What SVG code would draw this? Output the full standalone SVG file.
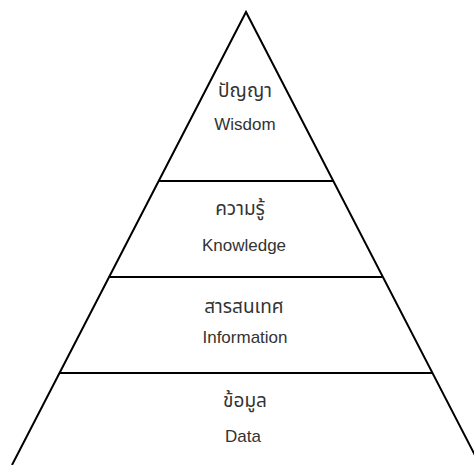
<svg xmlns="http://www.w3.org/2000/svg" width="474" height="465" viewBox="0 0 474 465">
<style>
.edge{stroke:#000;stroke-width:2;fill:none;stroke-linecap:butt}
.sep{stroke:#000;stroke-width:2}
.lbl{font-family:"Liberation Sans","Noto Sans Thai","Noto Sans","DejaVu Sans",sans-serif;font-size:17px;fill:#333;text-anchor:middle}
.th{font-size:19px}
</style>
<rect width="474" height="465" fill="#fff"/>
<g id="outline">
<path class="edge" d="M12,465 L246,12 L480,465"/>
</g>
<g id="wisdom">
<text class="lbl th" x="245" y="97">ปัญญา</text>
<text class="lbl" x="245" y="130">Wisdom</text>
</g>
<g id="knowledge">
<line class="sep" x1="159" y1="181" x2="333" y2="181"/>
<text class="lbl th" x="240" y="215">ความรู้</text>
<text class="lbl" x="244" y="251">Knowledge</text>
</g>
<g id="information">
<line class="sep" x1="110" y1="277" x2="382" y2="277"/>
<text class="lbl th" x="244" y="313">สารสนเทศ</text>
<text class="lbl" x="245" y="343">Information</text>
</g>
<g id="data">
<line class="sep" x1="60" y1="373" x2="432" y2="373"/>
<text class="lbl th" x="245" y="407">ข้อมูล</text>
<text class="lbl" x="243" y="442">Data</text>
</g>
</svg>
